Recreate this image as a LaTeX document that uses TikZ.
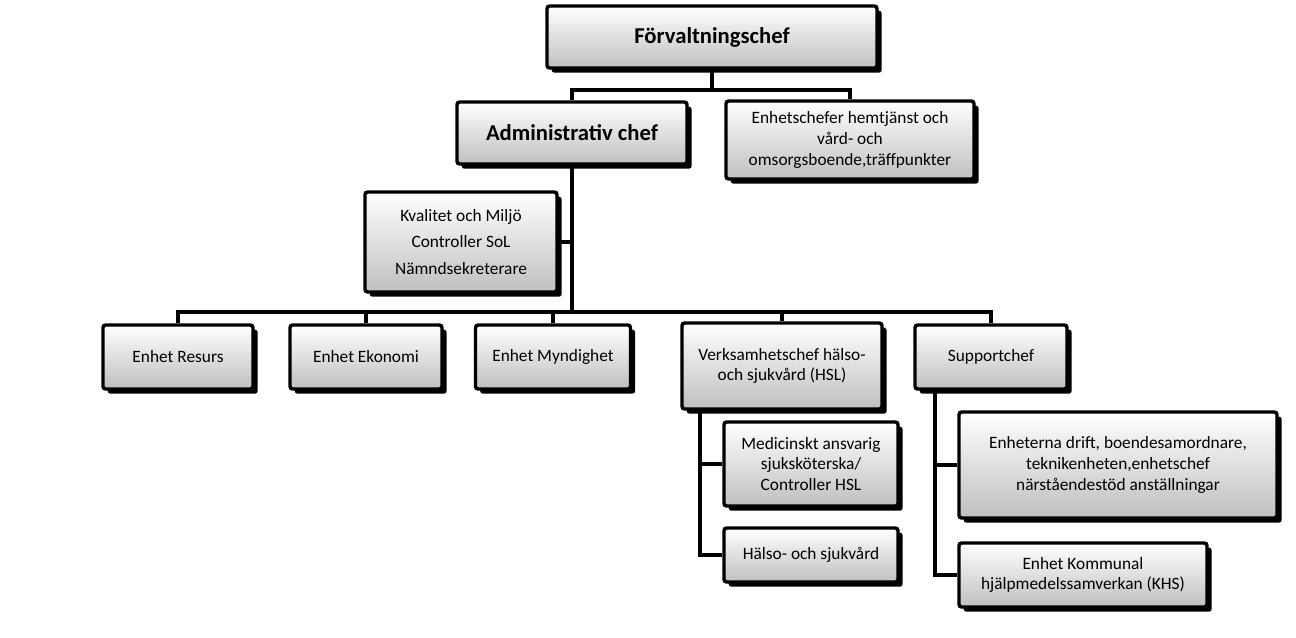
\documentclass[tikz,border=0pt]{standalone}
\usepackage{fontspec}
\setmainfont{Carlito}
\usetikzlibrary{shadows}
\begin{document}
\begin{tikzpicture}[x=0.75pt,y=-0.75pt,
  box/.style={draw=black,line width=2.6pt,rounded corners=2pt,top color=white,bottom color=black!25,
    drop shadow={shadow xshift=3.5pt,shadow yshift=-3.5pt,fill=black,opacity=1},
    align=center,font=\fontsize{13}{15.5}\selectfont,inner sep=2pt},
  ln/.style={line width=3pt}]
\useasboundingbox (0,0) rectangle (1296,637);
\node[box,minimum width=330*0.75pt,minimum height=62*0.75pt,font=\bfseries\fontsize{17}{20}\selectfont] (f) at (712,37) {Förvaltningschef};
\node[box,minimum width=230*0.75pt,minimum height=62*0.75pt,font=\bfseries\fontsize{17}{20}\selectfont] (a) at (572,133) {Administrativ chef};
\node[box,minimum width=248*0.75pt,minimum height=78*0.75pt] (e) at (850,140) {Enhetschefer hemtjänst och\\vård- och\\omsorgsboende,träffpunkter};
\node[box,minimum width=192*0.75pt,minimum height=100*0.75pt,font=\fontsize{13}{20}\selectfont] (k) at (461,242) {Kvalitet och Miljö\\Controller SoL\\Nämndsekreterare};
\node[box,minimum width=150*0.75pt,minimum height=64*0.75pt] (r) at (178,357) {Enhet Resurs};
\node[box,minimum width=152*0.75pt,minimum height=64*0.75pt] (ek) at (366,357) {Enhet Ekonomi};
\node[box,minimum width=155*0.75pt,minimum height=64*0.75pt] (m) at (553,357) {Enhet Myndighet};
\node[box,minimum width=200*0.75pt,minimum height=86*0.75pt] (v) at (782,366) {Verksamhetschef hälso-\\och sjukvård (HSL)};
\node[box,minimum width=152*0.75pt,minimum height=64*0.75pt] (s) at (991,357) {Supportchef};
\node[box,minimum width=174*0.75pt,minimum height=84*0.75pt] (mc) at (811,464) {Medicinskt ansvarig\\sjuksköterska/\\Controller HSL};
\node[box,minimum width=174*0.75pt,minimum height=54*0.75pt] (h) at (811,555) {Hälso- och sjukvård};
\node[box,minimum width=318*0.75pt,minimum height=106*0.75pt] (d) at (1118,465) {Enheterna drift, boendesamordnare,\\teknikenheten,enhetschef\\närståendestöd anställningar};
\node[box,minimum width=248*0.75pt,minimum height=64*0.75pt] (kh) at (1083,575) {Enhet Kommunal\\hjälpmedelssamverkan (KHS)};
\coordinate (y1) at (0,90);
\coordinate (y2) at (0,312);
\draw[ln] (f.south) -- (f.south |- y1) -| (e.north);
\draw[ln] (f.south |- y1) -| (a.north);
\draw[ln] (a.south) -- (a.south |- y2);
\draw[ln] (k.east) -- (k.east -| a.south);
\draw[ln] (r.north) |- (a.south |- y2) -| (s.north);
\draw[ln] (ek.north) -- (ek.north |- y2);
\draw[ln] (m.north) -- (m.north |- y2);
\draw[ln] (v.north) -- (v.north |- y2);
\coordinate (vx) at (700,0);
\coordinate (sx) at (935,0);
\draw[ln] (v.south -| vx) |- (h.west);
\draw[ln] (mc.west -| vx) -- (mc.west);
\draw[ln] (s.south -| sx) |- (kh.west);
\draw[ln] (d.west -| sx) -- (d.west);
\end{tikzpicture}
\end{document}
